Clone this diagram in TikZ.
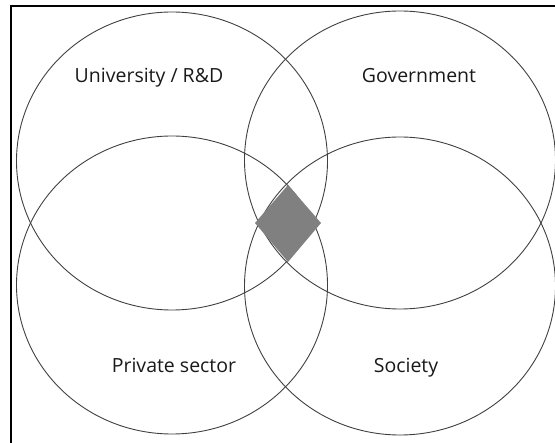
\documentclass[tikz,border=0pt]{standalone}
\usepackage{fontspec}
\setmainfont{Open Sans}

\tikzset{
  ring/.style={draw=black!75, line width=0.9pt},
  lbl/.style={anchor=base, font=\fontsize{19.5}{22}\selectfont, text=black!90},
}

\begin{document}
\begin{tikzpicture}[x=1pt, y=-1pt]
  \useasboundingbox (0,0) rectangle (555,443);
  % frame, only top and left edges are inside the picture
  \draw[line width=2pt] (11,443) -- (11,6) -- (555,6);
  % the four overlapping circles
  \foreach \cx/\cy in {172/161, 400/160, 172/285, 400/286} {
    \draw[ring] (\cx,\cy) ellipse[x radius=155.5, y radius=149];
  }
  % meeting point
  \fill[gray] (288,185) -- (321,223) -- (288,262) -- (255,223) -- cycle;
  \node[lbl] (univ) at (149,83) {University / R\&D};
  \node[lbl] (gov) at (419,83) {Government};
  \node[lbl] (priv) at (174,373) {Private sector};
  \node[lbl] (soc) at (406,373) {Society};
\end{tikzpicture}
\end{document}
